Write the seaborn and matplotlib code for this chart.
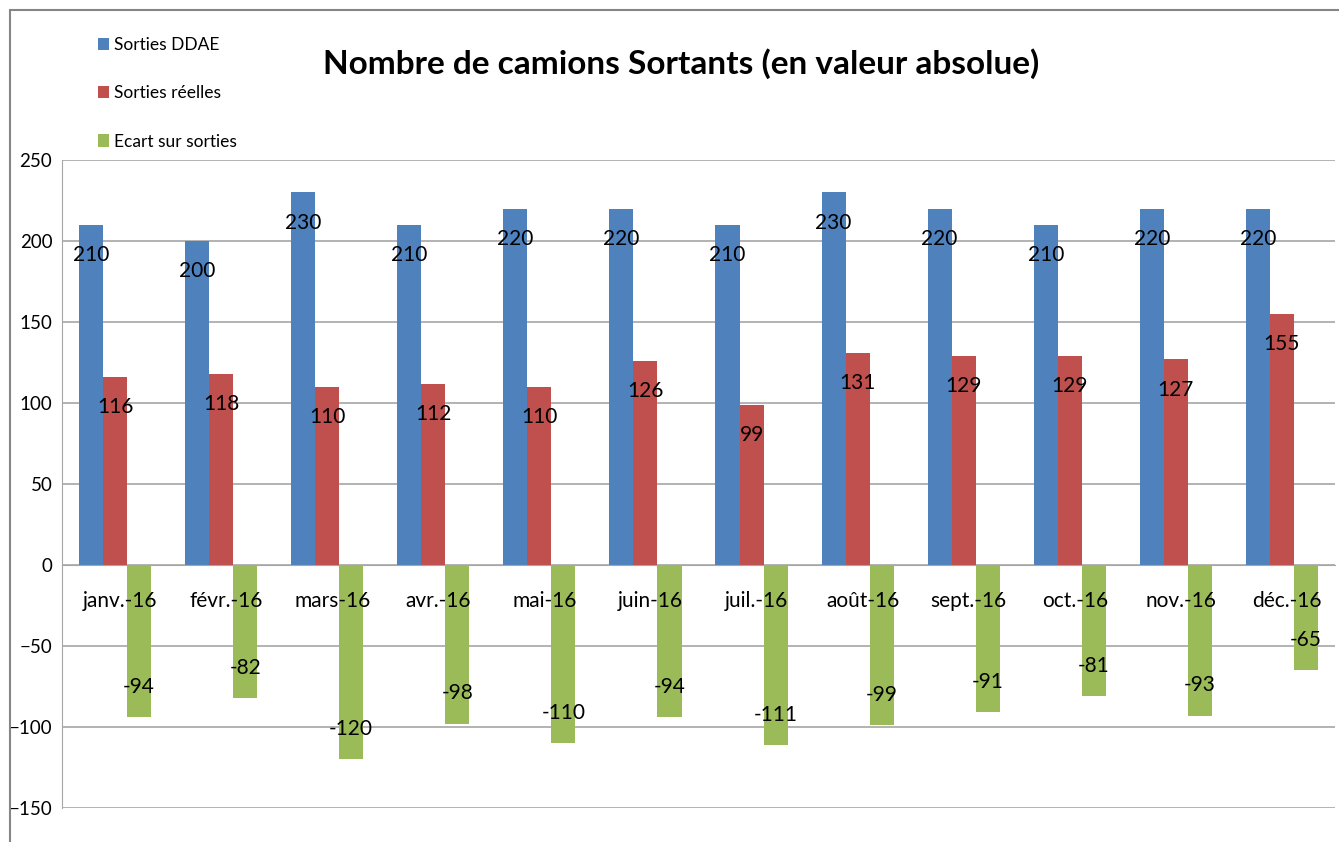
import matplotlib
matplotlib.use("Agg")
import matplotlib.pyplot as plt
import seaborn as sns
import pandas as pd
from matplotlib.patches import Rectangle, Patch

# data
mois = ["janv.-16", "févr.-16", "mars-16", "avr.-16", "mai-16", "juin-16",
        "juil.-16", "août-16", "sept.-16", "oct.-16", "nov.-16", "déc.-16"]
sorties_ddae = [210, 200, 230, 210, 220, 220, 210, 230, 220, 210, 220, 220]
sorties_reelles = [116, 118, 110, 112, 110, 126, 99, 131, 129, 129, 127, 155]
ecart = [-94, -82, -120, -98, -110, -94, -111, -99, -91, -81, -93, -65]

series = ["Sorties DDAE", "Sorties réelles", "Ecart sur sorties"]
colors = ["#4F81BD", "#C0504D", "#9BBB59"]

df = pd.DataFrame({
    "mois": mois * 3,
    "serie": [series[0]] * 12 + [series[1]] * 12 + [series[2]] * 12,
    "valeur": sorties_ddae + sorties_reelles + ecart,
})

sns.set_style("white")
plt.rcParams["font.family"] = ["Lato", "DejaVu Sans"]
plt.rcParams["text.color"] = "black"
plt.rcParams["ytick.color"] = "black"

fig = plt.figure(figsize=(13.39, 8.42), dpi=100)
ax = fig.add_axes([0.0463, 0.0404, 0.9507, 0.7696])

sns.barplot(data=df, x="mois", y="valeur", hue="serie", palette=colors,
            width=0.68, saturation=1, linewidth=0, ax=ax, legend=False)

for cont in ax.containers:
    ax.bar_label(cont, padding=-29, fontsize=15, color="black", zorder=5)

ax.set_ylim(-150, 250)
ax.set_xlim(-0.5, 11.5)
ax.set_yticks(range(-150, 251, 50))
ax.yaxis.grid(True, color="#a6a6a6", linewidth=1.2)
ax.set_axisbelow(True)
ax.set_xlabel("")
ax.set_ylabel("")

for s in ["top", "right"]:
    ax.spines[s].set_visible(False)
ax.spines["left"].set_color("#a6a6a6")
ax.spines["bottom"].set_color("#a6a6a6")
ax.spines["bottom"].set_position(("data", 0))

# category labels drawn as texts so they sit above the green bars
ax.set_xticks(range(len(mois)))
ax.set_xticklabels([])
for i, m in enumerate(mois):
    ax.annotate(m, (i, 0), xytext=(5, -36), textcoords="offset pixels",
                ha="center", va="center", fontsize=15, zorder=6)
ax.set_xticks([i + 0.5 for i in range(len(mois) - 1)], minor=True)
ax.tick_params(axis="x", which="major", length=0)
ax.tick_params(axis="x", which="minor", length=7, color="#a6a6a6")
ax.tick_params(axis="y", length=5, color="#a6a6a6", labelsize=13.5, pad=2)

fig.text(0.509, 0.924, "Nombre de camions Sortants (en valeur absolue)",
         ha="center", va="center", fontsize=24, fontweight="bold")

handles = [Patch(facecolor=c, edgecolor="none") for c in colors]
fig.legend(handles, series, loc="upper left", bbox_to_anchor=(0.067, 0.966),
           frameon=False, fontsize=12.5, handlelength=0.6, handleheight=0.7,
           handletextpad=0.3, labelspacing=1.85, borderpad=0)

fig.patches.append(Rectangle((10 / 1339, -0.1), 1.2, 1 - 10 / 842 + 0.1,
                             transform=fig.transFigure, fill=False,
                             edgecolor="#868686", linewidth=1.5))

plt.savefig("out.png", dpi=100)
